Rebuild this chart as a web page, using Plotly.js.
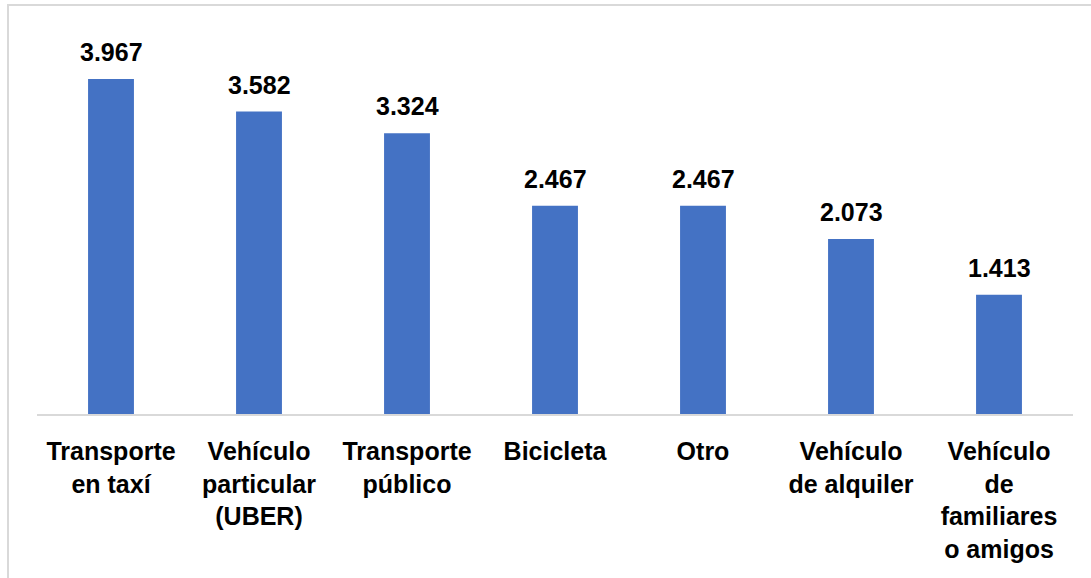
<!DOCTYPE html>
<html>
<head>
<meta charset="utf-8">
<script src="https://cdn.plot.ly/plotly-3.0.1.min.js"></script>
<style>
  html, body { margin: 0; padding: 0; background: #ffffff; }
  #frame { position: absolute; left: 7px; top: 4px; width: 1200px; height: 700px;
           border-left: 2px solid #D9D9D9; border-top: 2px solid #D9D9D9; }
  #chart { position: absolute; left: 0; top: 0; width: 1091px; height: 578px; }
</style>
</head>
<body>
<div id="frame"></div>
<div id="chart"></div>
<script>
const categories = [
  "Transporte<br>en taxí",
  "Vehículo<br>particular<br>(UBER)",
  "Transporte<br>público",
  "Bicicleta",
  "Otro",
  "Vehículo<br>de alquiler",
  "Vehículo<br>de<br>familiares<br>o amigos"
];
const values = [3.967, 3.582, 3.324, 2.467, 2.467, 2.073, 1.413];
const valueLabels = ["3.967", "3.582", "3.324", "2.467", "2.467", "2.073", "1.413"];

const FONT = "'Liberation Sans', Arial, sans-serif";

const trace = {
  type: "bar",
  x: categories,
  y: values,
  marker: { color: "#4472C4" },
  hoverinfo: "none"
};

const annotations = categories.map((c, i) => ({
  x: c, y: values[i], xref: "x", yref: "y",
  text: "<b>" + valueLabels[i] + "</b>",
  showarrow: false, yanchor: "bottom", yshift: 11,
  font: { family: FONT, size: 25, color: "#000000" }
}));

const layout = {
  width: 1091, height: 578,
  margin: { l: 37, r: 18, t: 34, b: 164 },
  paper_bgcolor: "rgba(0,0,0,0)",
  plot_bgcolor: "rgba(0,0,0,0)",
  showlegend: false,
  bargap: 0.69,
  font: { family: FONT, size: 25, color: "#000000" },
  xaxis: {
    type: "category",
    showline: true, linecolor: "#D9D9D9", linewidth: 2,
    ticks: "", showgrid: false, zeroline: false,
    tickfont: { family: FONT, size: 25, color: "#000000", weight: "bold" },
    ticklabelstandoff: 14
  },
  yaxis: {
    range: [0, 4.5],
    visible: false, showgrid: false, zeroline: false
  },
  annotations: annotations
};

Plotly.newPlot("chart", [trace], layout, { staticPlot: true, displayModeBar: false });
</script>
</body>
</html>
